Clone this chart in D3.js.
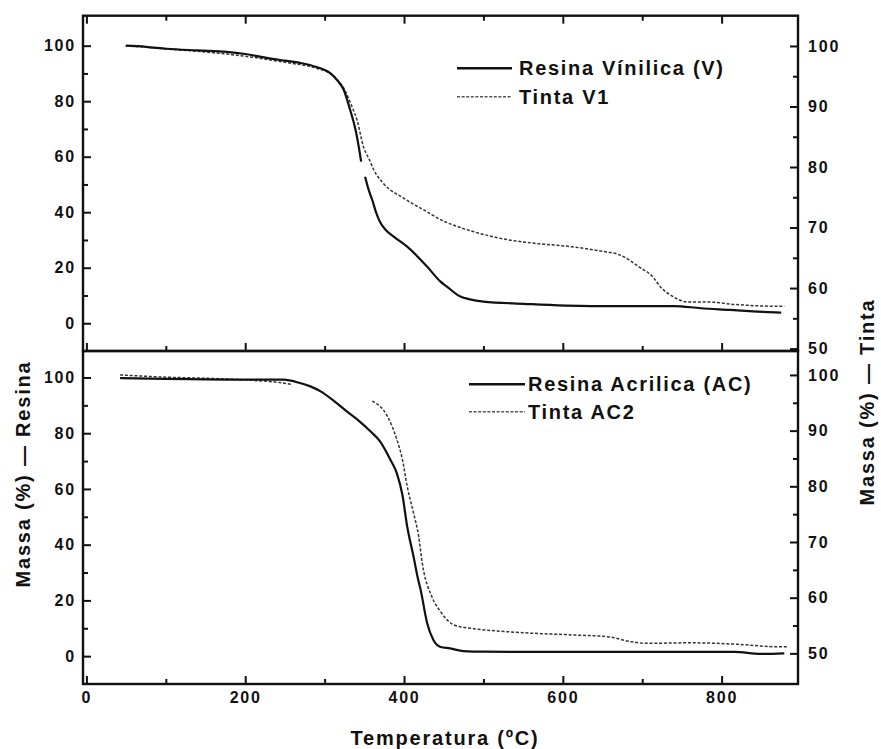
<!DOCTYPE html>
<html>
<head>
<meta charset="utf-8">
<script src="https://cdn.jsdelivr.net/npm/d3@7"></script>
<style>
  body { margin: 0; background: #fff; }
  svg text { font-family: "Liberation Sans", Arial, sans-serif; font-weight: bold; fill: #111; }
</style>
</head>
<body>
<div id="chart"></div>
<script>
// Dados (TGA). null = interrupção da curva
var tempResinaV = [49.6, 75, 101, 140, 177, 200, 227, 250, 269, 290, 307, 316, 324, 332, 339, 343, 346, null,
  351, 355, 360, 365, 370, 377, 387, 404, 429, 446, 454, 471, 483, 500, 551, 635, 740, 774, 811, 845, 875];
var massaResinaV = [100, 99.6, 98.9, 98.3, 97.8, 97.0, 95.6, 94.6, 93.8, 92.3, 90.1, 87.5, 84.1, 77, 69.6, 63.6, 58.2, null,
  52.8, 48.5, 44.4, 39.8, 36.4, 33.6, 31.2, 27.6, 20.4, 15.0, 13.2, 9.6, 8.6, 7.8, 7.0, 6.2, 6.2, 5.4, 4.8, 4.2, 3.8];

var tempTintaV1 = [49.6, 75, 101, 150, 200, 250, 290, 310, 325, 335, 341, 349, 356, 362, 374, 400, 429, 446,
  471, 488, 530, 564, 606, 644, 673, 696, 715, 721, 740, 757, 782, 816, 866, 879];
var massaTintaV1 = [100, 99.8, 99.5, 99.0, 98.3, 97.3, 96.3, 95.2, 92.8, 89.8, 87.7, 83.3, 81.3, 79.5, 77.3, 74.8, 72.6, 71.3,
  70.0, 69.3, 68.0, 67.4, 66.9, 66.2, 65.4, 63.5, 61.6, 60.5, 58.5, 57.7, 57.7, 57.3, 57.0, 57.0];

var tempResinaAC = [42.4, 100, 150, 200, 248, 269, 282, 295, 312, 328, 345, 358, 370, 383, 391, 398, 404, 412,
  417, 421, 429, 437, 446, 458, 475, 500, 600, 700, 816, 849, 879];
var massaResinaAC = [99.8, 99.5, 99.3, 99.2, 99.2, 98.0, 96.8, 95.0, 91.5, 87.8, 84, 80.6, 77, 70.4, 65.6, 57.8, 46.5, 35.7,
  28.5, 23.7, 12.0, 5.8, 3.3, 2.8, 1.8, 1.6, 1.5, 1.5, 1.5, 0.8, 1.0];

var tempTintaAC2 = [42.4, 100, 150, 200, 245, 258, null, 360, 379, 391, 398, 404, 412, 418.5, 423, 435, 446,
  463, 484, 496, 551, 614, 656, 686, 707, 761, 824, 866, 883];
var massaTintaAC2 = [100, 99.6, 99.4, 99.1, 98.6, 98.3, null, 95.3, 92.6, 88.4, 84.8, 80.0, 75.2, 71.0, 66.2, 60.2, 57.5,
  55.1, 54.5, 54.3, 53.7, 53.3, 53.0, 52.1, 51.8, 51.9, 51.6, 51.2, 51.2];

// Ticks
var ticksTemp = [0, 200, 400, 600, 800];
var ticksTempMenor = [100, 300, 500, 700];
var ticksResina = [0, 20, 40, 60, 80, 100];
var ticksResinaMenor = [10, 30, 50, 70, 90];
var ticksTinta = [50, 60, 70, 80, 90, 100];
var ticksTintaMenor = [55, 65, 75, 85, 95];

var legendaTopo = ["Resina Vínilica (V)", "Tinta V1"];
var legendaBaixo = ["Resina Acrilica (AC)", "Tinta AC2"];

var width = 881, height = 749;
var left = 83, right = 798, top1 = 15.7, mid = 351, bottom2 = 684;

var svg = d3.select("#chart").append("svg")
  .attr("width", width)
  .attr("height", height);

var x = d3.scaleLinear().domain([-4.3, 896.2]).range([left, right]);
var yTopL = d3.scaleLinear().domain([-10, 110.8]).range([mid, top1]);
var yTopR = d3.scaleLinear().domain([49.6, 105]).range([mid, top1]);
var yBotL = d3.scaleLinear().domain([-10, 109.5]).range([bottom2, mid]);
var yBotR = d3.scaleLinear().domain([44.5, 104.3]).range([bottom2, mid]);

function pares(ts, vs) {
  return ts.map(function (t, i) { return [t, vs[i]]; });
}

function desenhaCurva(ts, vs, yScale, tracejada) {
  var line = d3.line()
    .defined(function (d) { return d[0] !== null && d[1] !== null; })
    .x(function (d) { return x(d[0]); })
    .y(function (d) { return yScale(d[1]); })
    .curve(d3.curveMonotoneX);
  var p = svg.append("path")
    .datum(pares(ts, vs))
    .attr("fill", "none")
    .attr("d", line);
  if (tracejada) {
    p.attr("stroke", "#333").attr("stroke-width", 1.5).attr("stroke-dasharray", "3,1.8");
  } else {
    p.attr("stroke", "#111").attr("stroke-width", 2.2);
  }
}

function estilo(g) {
  g.select(".domain").remove();
  g.attr("font-size", null).attr("font-family", null);
  g.selectAll("line").attr("stroke", "#111").attr("stroke-width", 2);
  g.selectAll("text").style("font-size", "16px").style("letter-spacing", "1.8px");
}

function eixo(gen, tx, ty) {
  svg.append("g")
    .attr("transform", "translate(" + tx + "," + ty + ")")
    .call(gen)
    .call(estilo);
}

// Painel superior
eixo(d3.axisLeft(yTopL).tickValues(ticksResina).tickSize(-8).tickPadding(7).tickFormat(d3.format("d")), left, 0);
eixo(d3.axisLeft(yTopL).tickValues(ticksResinaMenor).tickSize(-5).tickFormat(""), left, 0);
eixo(d3.axisRight(yTopR).tickValues(ticksTinta).tickSize(-8).tickPadding(10).tickFormat(d3.format("d")), right, 0);
eixo(d3.axisRight(yTopR).tickValues(ticksTintaMenor).tickSize(-5).tickFormat(""), right, 0);
eixo(d3.axisTop(x).tickValues(ticksTemp).tickSize(-8).tickFormat(""), 0, top1);
eixo(d3.axisTop(x).tickValues(ticksTempMenor).tickSize(-5).tickFormat(""), 0, top1);
eixo(d3.axisBottom(x).tickValues(ticksTemp).tickSize(-8).tickFormat(""), 0, mid);
eixo(d3.axisBottom(x).tickValues(ticksTempMenor).tickSize(-5).tickFormat(""), 0, mid);

// Painel inferior
eixo(d3.axisLeft(yBotL).tickValues(ticksResina).tickSize(-8).tickPadding(7).tickFormat(d3.format("d")), left, 0);
eixo(d3.axisLeft(yBotL).tickValues(ticksResinaMenor).tickSize(-5).tickFormat(""), left, 0);
eixo(d3.axisRight(yBotR).tickValues(ticksTinta).tickSize(-8).tickPadding(10).tickFormat(d3.format("d")), right, 0);
eixo(d3.axisRight(yBotR).tickValues(ticksTintaMenor).tickSize(-5).tickFormat(""), right, 0);
eixo(d3.axisBottom(x).tickValues(ticksTemp).tickSize(-8).tickPadding(8).tickFormat(d3.format("d")), 0, bottom2);
eixo(d3.axisBottom(x).tickValues(ticksTempMenor).tickSize(-5).tickFormat(""), 0, bottom2);

// Curvas
desenhaCurva(tempTintaV1, massaTintaV1, yTopR, true);
desenhaCurva(tempResinaV, massaResinaV, yTopL, false);
desenhaCurva(tempTintaAC2, massaTintaAC2, yBotR, true);
desenhaCurva(tempResinaAC, massaResinaAC, yBotL, false);

// Molduras
[[top1, mid], [mid, bottom2]].forEach(function (r) {
  svg.append("rect")
    .attr("x", left).attr("y", r[0])
    .attr("width", right - left).attr("height", r[1] - r[0])
    .attr("fill", "none").attr("stroke", "#111").attr("stroke-width", 2.4);
});

// Legendas
function legenda(nomes, x0, x1, xt, y0, passo) {
  nomes.forEach(function (nome, i) {
    var yy = y0 + i * passo;
    var l = svg.append("line")
      .attr("x1", x0).attr("x2", x1).attr("y1", yy).attr("y2", yy);
    if (i === 0) {
      l.attr("stroke", "#111").attr("stroke-width", 2.4);
    } else {
      l.attr("stroke", "#555").attr("stroke-width", 1.6).attr("stroke-dasharray", "3,1.6");
    }
    svg.append("text")
      .attr("x", xt).attr("y", yy + 7)
      .style("font-size", "20px")
      .style("letter-spacing", "1.7px")
      .text(nome);
  });
}
legenda(legendaTopo, 457, 512, 519, 68.3, 28.5);
legenda(legendaBaixo, 469, 525, 528, 384.3, 27.5);

// Títulos dos eixos
svg.append("text")
  .attr("x", 445).attr("y", 745)
  .attr("text-anchor", "middle")
  .style("font-size", "20px").style("letter-spacing", "1.8px")
  .text("Temperatura (ºC)");

svg.append("text")
  .attr("transform", "translate(30,474) rotate(-90)")
  .attr("text-anchor", "middle")
  .style("font-size", "20px").style("letter-spacing", "1.8px")
  .text("Massa (%) — Resina");

svg.append("text")
  .attr("transform", "translate(874,402) rotate(-90)")
  .attr("text-anchor", "middle")
  .style("font-size", "20px").style("letter-spacing", "1.8px")
  .text("Massa (%) — Tinta");
</script>
</body>
</html>
